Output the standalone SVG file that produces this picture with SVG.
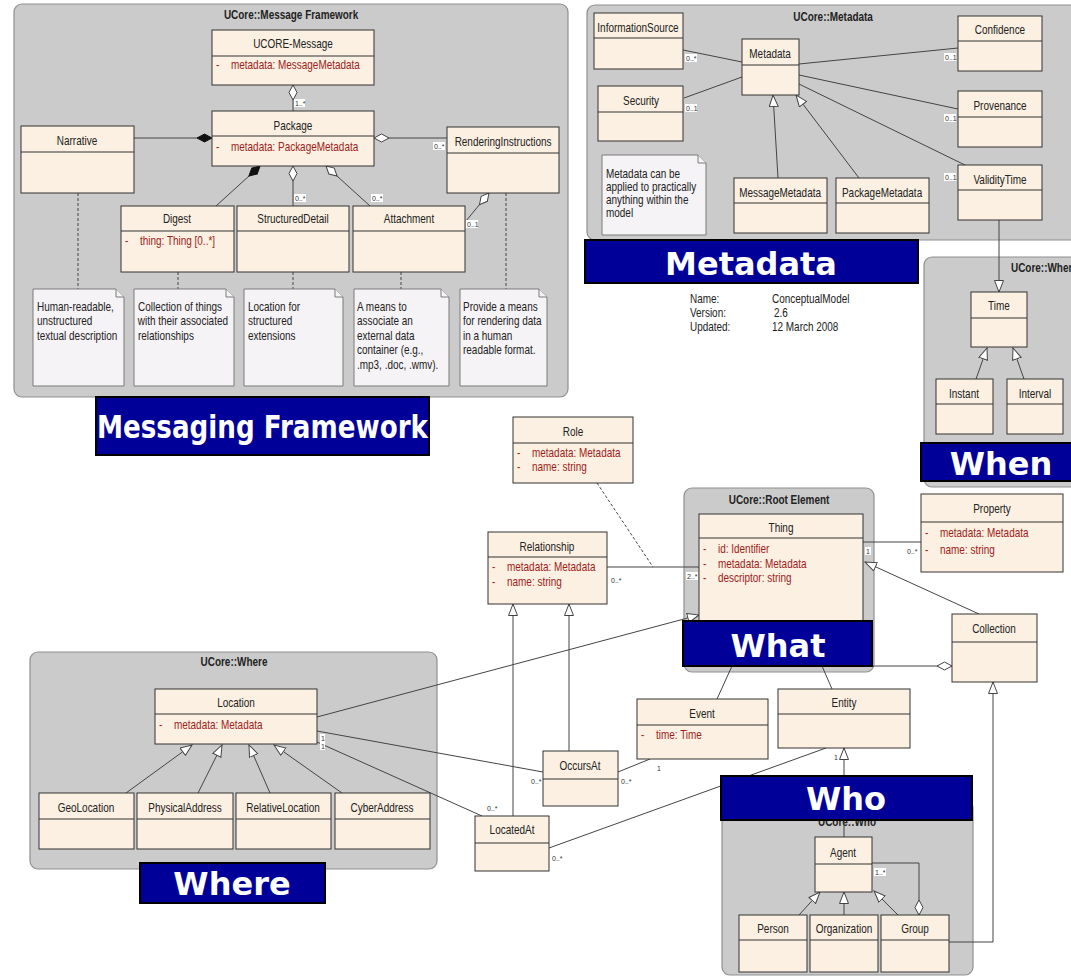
<svg xmlns="http://www.w3.org/2000/svg" width="1071" height="977" viewBox="0 0 1071 977">
<style>
.pkg{fill:#cbcbcb;stroke:#8f8f8f;stroke-width:1.2}
.cls{fill:#fbf0e1;stroke:#333;stroke-width:1}
.div{stroke:#333;stroke-width:1}
.note{fill:#f6f3f6;stroke:#7a7a7a;stroke-width:1}
.t{font-family:"Liberation Sans",Arial,sans-serif;font-size:12px;fill:#222;transform-box:fill-box;transform-origin:0% 50%;transform:scaleX(0.83)}
.h{text-anchor:middle;transform-origin:50% 50%}
.a{fill:#a01c1c}
.pt{font-weight:bold;text-anchor:middle;fill:#222;transform-origin:50% 50%}
.m{font-family:"Liberation Sans",Arial,sans-serif;font-size:7px;fill:#333}
.mb{fill:#fff}
.lbl{fill:#000099;stroke:#000;stroke-width:2}
.lt{font-family:"DejaVu Sans",sans-serif;font-weight:bold;font-size:32px;fill:#fff;text-anchor:middle}
.ln{stroke:#444;fill:none;stroke-width:1}
.dash{stroke-dasharray:3,2}
.gen{marker-end:url(#tri)}
.agg{marker-start:url(#dia)}
.comp{marker-start:url(#fdia)}
</style>
<defs>
<marker id="tri" markerUnits="userSpaceOnUse" markerWidth="14" markerHeight="11" refX="12" refY="5" orient="auto" viewBox="0 0 14 11"><path d="M0.5,0.5 L12,5 L0.5,9.5 Z" fill="#fff" stroke="#444" stroke-width="1"/></marker>
<marker id="dia" markerUnits="userSpaceOnUse" markerWidth="18" markerHeight="10" refX="1" refY="5" orient="auto" viewBox="0 0 18 10"><path d="M1,5 L8.5,1 L16,5 L8.5,9 Z" fill="#fff" stroke="#444" stroke-width="1"/></marker>
<marker id="fdia" markerUnits="userSpaceOnUse" markerWidth="18" markerHeight="10" refX="1" refY="5" orient="auto" viewBox="0 0 18 10"><path d="M1,5 L8.5,1 L16,5 L8.5,9 Z" fill="#111" stroke="#111" stroke-width="1"/></marker>
</defs>

<!-- Packages -->
<g id="pkg-message-framework"><rect class="pkg" x="14" y="4" width="554" height="393" rx="8"/><text class="t pt" x="291" y="19">UCore::Message Framework</text></g>
<g id="pkg-metadata"><rect class="pkg" x="587" y="5" width="500" height="235" rx="8"/><text class="t pt" x="833" y="21">UCore::Metadata</text></g>
<g id="pkg-when"><rect class="pkg" x="924" y="257" width="160" height="230" rx="8"/><text class="t" font-weight="bold" x="1011" y="272">UCore::When</text></g>
<g id="pkg-root"><rect class="pkg" x="684" y="488" width="190" height="184" rx="8"/><text class="t pt" x="779" y="504">UCore::Root Element</text></g>
<g id="pkg-where"><rect class="pkg" x="30" y="652" width="407" height="217" rx="8"/><text class="t pt" x="234" y="666">UCore::Where</text></g>
<g id="pkg-who"><rect class="pkg" x="722" y="800" width="251" height="175" rx="8"/><text class="t pt" x="847" y="826">UCore::Who</text></g>

<!-- Connectors -->
<g id="connectors">
<line class="ln agg" x1="293" y1="85" x2="293" y2="111"/>
<line class="ln comp" x1="212" y1="138" x2="134" y2="138"/>
<line class="ln agg" x1="374" y1="138" x2="447" y2="138"/>
<line class="ln comp" x1="260" y1="166" x2="216" y2="206"/>
<line class="ln agg" x1="293" y1="166" x2="293" y2="206"/>
<line class="ln agg" x1="326" y1="166" x2="370" y2="206"/>
<line class="ln agg" x1="489" y1="193" x2="466" y2="221"/>
<line class="ln dash" x1="78" y1="193" x2="78" y2="289"/>
<line class="ln dash" x1="178" y1="272" x2="178" y2="289"/>
<line class="ln dash" x1="293" y1="272" x2="293" y2="289"/>
<line class="ln dash" x1="401" y1="272" x2="401" y2="289"/>
<line class="ln dash" x1="506" y1="193" x2="506" y2="289"/>

<line class="ln" x1="683" y1="50" x2="742" y2="62"/>
<line class="ln" x1="684" y1="98" x2="742" y2="77"/>
<line class="ln" x1="799" y1="64" x2="958" y2="48"/>
<line class="ln" x1="799" y1="75" x2="958" y2="109"/>
<line class="ln" x1="799" y1="84" x2="967" y2="166"/>
<line class="ln gen" x1="778" y1="178" x2="773" y2="95"/>
<line class="ln gen" x1="859" y1="178" x2="796" y2="95"/>
<line class="ln gen" x1="999" y1="220" x2="999" y2="292"/>
<line class="ln gen" x1="976" y1="379" x2="987" y2="348"/>
<line class="ln gen" x1="1024" y1="379" x2="1013" y2="348"/>

<line class="ln" x1="607" y1="567" x2="699" y2="567"/>
<line class="ln dash" x1="597" y1="483" x2="653" y2="567"/>
<line class="ln" x1="863" y1="542" x2="921" y2="542"/>
<line class="ln gen" x1="979" y1="614" x2="865" y2="562"/>
<line class="ln agg" x1="952" y1="666" x2="872" y2="666"/>
<line class="ln gen" x1="317" y1="717" x2="699" y2="615"/>
<line class="ln" x1="717" y1="699" x2="732" y2="666"/>
<line class="ln" x1="832" y1="689" x2="822" y2="666"/>
<line class="ln gen" x1="569" y1="751" x2="569" y2="604"/>
<line class="ln gen" x1="513" y1="816" x2="513" y2="604"/>
<line class="ln" x1="317" y1="731" x2="543" y2="772"/>
<line class="ln" x1="317" y1="742" x2="482" y2="816"/>
<line class="ln" x1="618" y1="772" x2="650" y2="759"/>
<line class="ln" x1="549" y1="848" x2="826" y2="748"/>

<line class="ln gen" x1="126" y1="793" x2="192" y2="745"/>
<line class="ln gen" x1="198" y1="793" x2="222" y2="745"/>
<line class="ln gen" x1="270" y1="793" x2="249" y2="745"/>
<line class="ln gen" x1="342" y1="793" x2="274" y2="745"/>

<line class="ln gen" x1="844" y1="837" x2="844" y2="748"/>
<line class="ln gen" x1="799" y1="915" x2="820" y2="892"/>
<line class="ln gen" x1="844" y1="915" x2="844" y2="892"/>
<line class="ln gen" x1="898" y1="915" x2="874" y2="891"/>
<polyline class="ln agg" points="919,915 919,863 872,863"/>
<polyline class="ln gen" points="949,942 993,942 993,682"/>

<!-- multiplicities -->
<rect class="mb" x="294" y="99" width="11" height="8"/><text class="m" x="295" y="106">1..*</text>
<rect class="mb" x="433" y="142" width="12" height="8"/><text class="m" x="434" y="149">0..*</text>
<rect class="mb" x="294" y="194" width="12" height="8"/><text class="m" x="295" y="201">0..*</text>
<rect class="mb" x="371" y="194" width="12" height="8"/><text class="m" x="372" y="201">0..*</text>
<rect class="mb" x="466" y="220" width="12" height="8"/><text class="m" x="467" y="227">0..1</text>
<rect class="mb" x="685" y="54" width="12" height="8"/><text class="m" x="686" y="61">0..*</text>
<rect class="mb" x="685" y="104" width="12" height="8"/><text class="m" x="686" y="111">0..1</text>
<rect class="mb" x="944" y="53" width="12" height="8"/><text class="m" x="945" y="60">0..1</text>
<rect class="mb" x="944" y="114" width="12" height="8"/><text class="m" x="945" y="121">0..1</text>
<rect class="mb" x="944" y="173" width="12" height="8"/><text class="m" x="945" y="180">0..1</text>
<text class="m" x="611" y="583">0..*</text>
<rect class="mb" x="686" y="572" width="12" height="8"/><text class="m" x="687" y="579">2..*</text>
<rect class="mb" x="865" y="547" width="6" height="8"/><text class="m" x="866" y="554">1</text>
<text class="m" x="907" y="554">0..*</text>
<rect class="mb" x="320" y="734" width="5" height="16"/><text class="m" x="321" y="741">1</text><text class="m" x="321" y="749">1</text>
<text class="m" x="531" y="784">0..*</text>
<text class="m" x="487" y="811">0..*</text>
<text class="m" x="621" y="784">0..*</text>
<text class="m" x="657" y="771">1</text>
<text class="m" x="552" y="861">0..*</text>
<text class="m" x="834" y="760">1</text>
<rect class="mb" x="874" y="868" width="12" height="8"/><text class="m" x="875" y="875">1..*</text>
</g>

<!-- Message Framework nodes -->
<g id="ucore-message"><rect class="cls" x="212" y="30" width="162" height="55"/><line class="div" x1="212" y1="56" x2="374" y2="56"/><text class="t h" x="293" y="48">UCORE-Message</text><text class="t a" x="216" y="69">-</text><text class="t a" x="231" y="69">metadata:  MessageMetadata</text></g>
<g id="package"><rect class="cls" x="212" y="111" width="162" height="55"/><line class="div" x1="212" y1="136" x2="374" y2="136"/><text class="t h" x="293" y="130">Package</text><text class="t a" x="216" y="151">-</text><text class="t a" x="231" y="151">metadata:  PackageMetadata</text></g>
<g id="narrative"><rect class="cls" x="21" y="126" width="113" height="67"/><line class="div" x1="21" y1="152" x2="134" y2="152"/><text class="t h" x="77" y="145">Narrative</text></g>
<g id="rendering-instructions"><rect class="cls" x="447" y="127" width="112" height="66"/><line class="div" x1="447" y1="153" x2="559" y2="153"/><text class="t h" x="503" y="146">RenderingInstructions</text></g>
<g id="digest"><rect class="cls" x="121" y="206" width="113" height="66"/><line class="div" x1="121" y1="231" x2="234" y2="231"/><text class="t h" x="177" y="223">Digest</text><text class="t a" x="125" y="245">-</text><text class="t a" x="140" y="245">thing:  Thing [0..*]</text></g>
<g id="structured-detail"><rect class="cls" x="237" y="206" width="112" height="66"/><line class="div" x1="237" y1="231" x2="349" y2="231"/><text class="t h" x="293" y="223">StructuredDetail</text></g>
<g id="attachment"><rect class="cls" x="353" y="206" width="112" height="66"/><line class="div" x1="353" y1="231" x2="465" y2="231"/><text class="t h" x="409" y="223">Attachment</text></g>

<g id="note-narrative"><path class="note" d="M33,289 H116 L124,297 V386 H33 Z"/><path class="note" d="M116,289 V297 H124"/><text class="t" x="37" y="311">Human-readable,</text><text class="t" x="37" y="325">unstructured</text><text class="t" x="37" y="340">textual description</text></g>
<g id="note-digest"><path class="note" d="M134,289 H226 L234,297 V386 H134 Z"/><path class="note" d="M226,289 V297 H234"/><text class="t" x="138" y="311">Collection of things</text><text class="t" x="138" y="325">with their associated</text><text class="t" x="138" y="340">relationships</text></g>
<g id="note-structured"><path class="note" d="M244,289 H335 L343,297 V386 H244 Z"/><path class="note" d="M335,289 V297 H343"/><text class="t" x="248" y="311">Location for</text><text class="t" x="248" y="325">structured</text><text class="t" x="248" y="340">extensions</text></g>
<g id="note-attachment"><path class="note" d="M354,289 H441 L449,297 V386 H354 Z"/><path class="note" d="M441,289 V297 H449"/><text class="t" x="357" y="311">A means to</text><text class="t" x="357" y="325">associate an</text><text class="t" x="357" y="340">external data</text><text class="t" x="357" y="354">container (e.g.,</text><text class="t" x="357" y="369">.mp3, .doc, .wmv).</text></g>
<g id="note-rendering"><path class="note" d="M460,289 H539 L547,297 V386 H460 Z"/><path class="note" d="M539,289 V297 H547"/><text class="t" x="463" y="311">Provide a means</text><text class="t" x="463" y="325">for rendering data</text><text class="t" x="463" y="340">in a human</text><text class="t" x="463" y="354">readable format.</text></g>

<!-- Metadata nodes -->
<g id="information-source"><rect class="cls" x="594" y="13" width="89" height="56"/><line class="div" x1="594" y1="38" x2="683" y2="38"/><text class="t h" x="638" y="32">InformationSource</text></g>
<g id="security"><rect class="cls" x="598" y="86" width="85" height="55"/><line class="div" x1="598" y1="112" x2="683" y2="112"/><text class="t h" x="641" y="105">Security</text></g>
<g id="metadata"><rect class="cls" x="742" y="39" width="57" height="56"/><line class="div" x1="742" y1="65" x2="799" y2="65"/><text class="t h" x="770" y="58">Metadata</text></g>
<g id="confidence"><rect class="cls" x="958" y="16" width="84" height="55"/><line class="div" x1="958" y1="41" x2="1042" y2="41"/><text class="t h" x="1000" y="34">Confidence</text></g>
<g id="provenance"><rect class="cls" x="958" y="91" width="84" height="56"/><line class="div" x1="958" y1="117" x2="1042" y2="117"/><text class="t h" x="1000" y="110">Provenance</text></g>
<g id="validity-time"><rect class="cls" x="958" y="165" width="84" height="55"/><line class="div" x1="958" y1="190" x2="1042" y2="190"/><text class="t h" x="1000" y="184">ValidityTime</text></g>
<g id="message-metadata"><rect class="cls" x="734" y="178" width="93" height="55"/><line class="div" x1="734" y1="203" x2="827" y2="203"/><text class="t h" x="780" y="197">MessageMetadata</text></g>
<g id="package-metadata"><rect class="cls" x="836" y="178" width="93" height="55"/><line class="div" x1="836" y1="203" x2="929" y2="203"/><text class="t h" x="882" y="197">PackageMetadata</text></g>
<g id="note-metadata"><path class="note" d="M602,155 H698 L706,163 V235 H602 Z"/><path class="note" d="M698,155 V163 H706"/><text class="t" x="606" y="178">Metadata can be</text><text class="t" x="606" y="191">applied to practically</text><text class="t" x="606" y="204">anything within the</text><text class="t" x="606" y="217">model</text></g>

<g id="model-info"><text class="t" x="690" y="303">Name:</text><text class="t" x="772" y="303">ConceptualModel</text><text class="t" x="690" y="317">Version:</text><text class="t" x="774" y="317">2.6</text><text class="t" x="690" y="331">Updated:</text><text class="t" x="772" y="331">12 March 2008</text></g>

<!-- When nodes -->
<g id="time"><rect class="cls" x="971" y="292" width="56" height="55"/><line class="div" x1="971" y1="318" x2="1027" y2="318"/><text class="t h" x="999" y="310">Time</text></g>
<g id="instant"><rect class="cls" x="936" y="379" width="57" height="55"/><line class="div" x1="936" y1="404" x2="993" y2="404"/><text class="t h" x="964" y="398">Instant</text></g>
<g id="interval"><rect class="cls" x="1007" y="379" width="56" height="55"/><line class="div" x1="1007" y1="404" x2="1063" y2="404"/><text class="t h" x="1035" y="398">Interval</text></g>

<!-- Root / What nodes -->
<g id="role"><rect class="cls" x="513" y="417" width="120" height="66"/><line class="div" x1="513" y1="443" x2="633" y2="443"/><text class="t h" x="573" y="436">Role</text><text class="t a" x="517" y="457">-</text><text class="t a" x="532" y="457">metadata:  Metadata</text><text class="t a" x="517" y="471">-</text><text class="t a" x="532" y="471">name:  string</text></g>
<g id="relationship"><rect class="cls" x="488" y="532" width="119" height="72"/><line class="div" x1="488" y1="557" x2="607" y2="557"/><text class="t h" x="547" y="551">Relationship</text><text class="t a" x="492" y="571">-</text><text class="t a" x="507" y="571">metadata:  Metadata</text><text class="t a" x="492" y="586">-</text><text class="t a" x="507" y="586">name:  string</text></g>
<g id="thing"><rect class="cls" x="699" y="514" width="164" height="121"/><line class="div" x1="699" y1="538" x2="863" y2="538"/><text class="t h" x="781" y="532">Thing</text><text class="t a" x="703" y="553">-</text><text class="t a" x="718" y="553">id:  Identifier</text><text class="t a" x="703" y="568">-</text><text class="t a" x="718" y="568">metadata:  Metadata</text><text class="t a" x="703" y="582">-</text><text class="t a" x="718" y="582">descriptor:  string</text></g>
<g id="property"><rect class="cls" x="921" y="494" width="142" height="78"/><line class="div" x1="921" y1="522" x2="1063" y2="522"/><text class="t h" x="992" y="513">Property</text><text class="t a" x="925" y="537">-</text><text class="t a" x="940" y="537">metadata:  Metadata</text><text class="t a" x="925" y="554">-</text><text class="t a" x="940" y="554">name:  string</text></g>
<g id="collection"><rect class="cls" x="952" y="614" width="85" height="68"/><line class="div" x1="952" y1="642" x2="1037" y2="642"/><text class="t h" x="994" y="633">Collection</text></g>
<g id="event"><rect class="cls" x="637" y="699" width="131" height="60"/><line class="div" x1="637" y1="725" x2="768" y2="725"/><text class="t h" x="702" y="718">Event</text><text class="t a" x="641" y="739">-</text><text class="t a" x="656" y="739">time:  Time</text></g>
<g id="entity"><rect class="cls" x="778" y="689" width="132" height="59"/><line class="div" x1="778" y1="714" x2="910" y2="714"/><text class="t h" x="844" y="707">Entity</text></g>
<g id="occurs-at"><rect class="cls" x="543" y="751" width="75" height="55"/><line class="div" x1="543" y1="779" x2="618" y2="779"/><text class="t h" x="580" y="770">OccursAt</text></g>
<g id="located-at"><rect class="cls" x="475" y="816" width="74" height="55"/><line class="div" x1="475" y1="843" x2="549" y2="843"/><text class="t h" x="512" y="834">LocatedAt</text></g>

<!-- Where nodes -->
<g id="location"><rect class="cls" x="155" y="689" width="162" height="55"/><line class="div" x1="155" y1="714" x2="317" y2="714"/><text class="t h" x="236" y="707">Location</text><text class="t a" x="159" y="729">-</text><text class="t a" x="174" y="729">metadata:  Metadata</text></g>
<g id="geo-location"><rect class="cls" x="39" y="793" width="95" height="56"/><line class="div" x1="39" y1="819" x2="134" y2="819"/><text class="t h" x="86" y="812">GeoLocation</text></g>
<g id="physical-address"><rect class="cls" x="137" y="793" width="96" height="56"/><line class="div" x1="137" y1="819" x2="233" y2="819"/><text class="t h" x="185" y="812">PhysicalAddress</text></g>
<g id="relative-location"><rect class="cls" x="236" y="793" width="95" height="56"/><line class="div" x1="236" y1="819" x2="331" y2="819"/><text class="t h" x="283" y="812">RelativeLocation</text></g>
<g id="cyber-address"><rect class="cls" x="335" y="793" width="95" height="56"/><line class="div" x1="335" y1="819" x2="430" y2="819"/><text class="t h" x="382" y="812">CyberAddress</text></g>

<!-- Who nodes -->
<g id="agent"><rect class="cls" x="815" y="837" width="57" height="55"/><line class="div" x1="815" y1="864" x2="872" y2="864"/><text class="t h" x="843" y="857">Agent</text></g>
<g id="person"><rect class="cls" x="739" y="915" width="68" height="57"/><line class="div" x1="739" y1="940" x2="807" y2="940"/><text class="t h" x="773" y="933">Person</text></g>
<g id="organization"><rect class="cls" x="810" y="915" width="68" height="57"/><line class="div" x1="810" y1="940" x2="878" y2="940"/><text class="t h" x="844" y="933">Organization</text></g>
<g id="group"><rect class="cls" x="881" y="915" width="68" height="57"/><line class="div" x1="881" y1="940" x2="949" y2="940"/><text class="t h" x="915" y="933">Group</text></g>

<!-- Big labels -->
<g id="label-messaging"><rect class="lbl" x="96" y="397" width="333" height="58"/><text class="lt" x="262.5" y="438" font-size="27" textLength="331" lengthAdjust="spacingAndGlyphs">Messaging Framework</text></g>
<g id="label-metadata"><rect class="lbl" x="585" y="240" width="333" height="43"/><text class="lt" x="751" y="275">Metadata</text></g>
<g id="label-when"><rect class="lbl" x="921" y="443" width="160" height="38"/><text class="lt" x="1001" y="475">When</text></g>
<g id="label-what"><rect class="lbl" x="683" y="621" width="189" height="45"/><text class="lt" x="778" y="657">What</text></g>
<g id="label-where"><rect class="lbl" x="140" y="863" width="185" height="40"/><text class="lt" x="232" y="895">Where</text></g>
<g id="label-who"><rect class="lbl" x="721" y="776" width="251" height="44"/><text class="lt" x="846" y="810">Who</text></g>
</svg>
